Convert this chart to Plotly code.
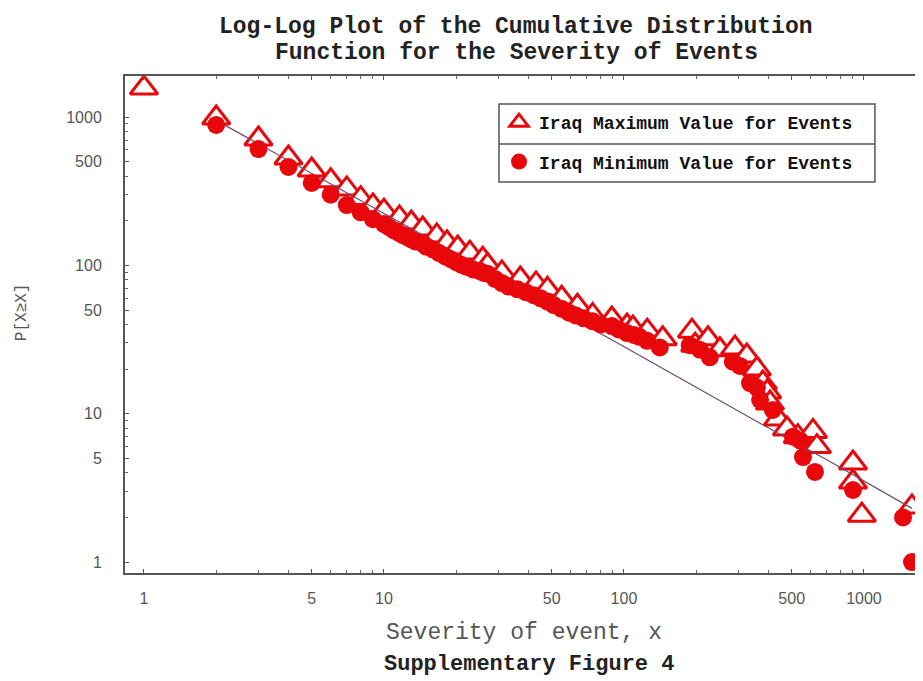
import plotly.graph_objects as go

# ---- data ----
max_x = [1, 2, 3, 4, 5, 6, 7, 8, 9, 10, 11.6, 13, 14.5, 16.6, 18.3, 20.3, 22.8, 25.8,
         27, 31, 37, 43, 48, 55, 64, 74, 89, 103, 109, 125, 145, 192, 198, 224, 251,
         290, 325, 358, 379, 395, 406, 438, 478, 530, 613, 637, 900, 900, 980, 1585]
max_y = [1570, 986, 712, 530, 440, 372, 328, 282, 252, 232, 209, 193, 176, 158, 142, 131, 121, 110,
         100, 89, 81, 75, 69, 60, 53, 46, 43.5, 39, 37.8, 36, 32, 36, 29, 32, 27,
         27.7, 24.5, 20, 16.1, 14, 11.8, 9.2, 7.9, 7, 7.6, 6, 4.65, 3.46, 2.07, 2.35]

min_x = [2, 3, 4, 5, 6, 7, 8, 9, 10, 10.5, 11, 11.5, 12, 12.5, 13, 13.5, 14.5, 15, 16, 17,
         18, 19, 20, 21, 22, 23.5, 25, 26, 27, 29, 31, 33, 36, 39, 42, 45, 48, 51, 55, 59,
         63, 68, 74, 80, 89, 95, 103, 110, 116, 125, 141, 188, 207, 228, 284, 304, 335,
         358, 369, 417, 506, 541, 557, 625, 900, 1455, 1585]
min_y = [885, 609, 461, 360, 300, 255, 228, 205, 190, 181, 172, 166, 160, 155, 150, 145, 140, 134,
         128, 121, 115, 110, 105, 101, 98, 94, 92, 89, 88, 81, 76, 72, 69, 66, 63, 60, 57, 54, 51, 48,
         46, 44, 42, 40, 39, 37, 35, 34, 33, 31, 28, 29, 27, 24, 22.4, 21, 16.1,
         15, 12.4, 10.6, 7.0, 6.6, 5.1, 4.05, 3.06, 2.0, 1.0]

line_x = [2, 94, 380, 700, 1585]
line_y = [950, 30, 8.4, 4.9, 2.3]

x_tickvals = [1, 5, 10, 50, 100, 500, 1000]
x_ticktext = ["1", "5", "10", "50", "100", "500", "1000"]
y_tickvals = [1, 5, 10, 50, 100, 500, 1000]
y_ticktext = ["1", "5", "10", "50", "100", "500", "1000"]
minor_vals = [2, 3, 4, 6, 7, 8, 9, 20, 30, 40, 60, 70, 80, 90,
              200, 300, 400, 600, 700, 800, 900, 2000]

title1 = "Log-Log Plot of the Cumulative Distribution"
title2 = "Function for the Severity of Events"
x_title = "Severity of event, x"
y_title = "P[X≥X]"
caption = "Supplementary Figure 4"
name_max = "Iraq Maximum Value for Events"
name_min = "Iraq Minimum Value for Events"

RED = "#e8080c"
MONO = "Liberation Mono, Courier New, monospace"
SANS = "Liberation Sans, Arial, sans-serif"

fig = go.Figure()
fig.add_trace(go.Scatter(
    x=max_x, y=max_y, mode="markers", name="<b>" + name_max + "</b>", legendgroup="a",
    marker=dict(symbol="triangle-up", size=24, color="white",
                line=dict(color=RED, width=3))))
fig.add_trace(go.Scatter(
    x=line_x, y=line_y, mode="lines", showlegend=False,
    line=dict(color="#6e4a72", width=1.2)))
fig.add_trace(go.Scatter(
    x=min_x, y=min_y, mode="markers", name="<b>" + name_min + "</b>", legendgroup="b",
    marker=dict(symbol="circle", size=18, color=RED, line=dict(width=0))))

axis_common = dict(
    type="log", showgrid=False, zeroline=False,
    showline=True, linecolor="#555555", linewidth=2,
    ticks="inside", ticklen=4, tickcolor="#555555", tickwidth=1,
    tickfont=dict(family=SANS, size=16, color="#555555"),
    minor=dict(tickvals=minor_vals, ticks="inside", ticklen=3,
               tickcolor="#666666", tickwidth=1, showgrid=False),
)

# page body has an 8px margin, so the figure is drawn 8px smaller
fig.update_layout(
    width=915, height=673,
    margin=dict(l=117, r=0, t=68, b=108),
    paper_bgcolor="white", plot_bgcolor="white",
    xaxis=dict(axis_common, range=[-0.079, 3.246], tickvals=x_tickvals,
               ticktext=x_ticktext, mirror="ticks", ticklabelstandoff=10),
    yaxis=dict(axis_common, range=[-0.074, 3.277], tickvals=y_tickvals,
               ticktext=y_ticktext, ticklabelstandoff=18),
    legend=dict(x=0.4687, y=0.9437, xanchor="left", yanchor="top",
                bgcolor="rgba(0,0,0,0)", borderwidth=0,
                font=dict(family=MONO, size=18, color="#111111"),
                tracegroupgap=13, itemsizing="trace", entrywidth=340),
    showlegend=True,
    shapes=[
        dict(type="rect", xref="paper", yref="paper", layer="above",
             x0=0.4687, x1=0.9398, y0=0.7867, y1=0.9437,
             fillcolor="white", line=dict(color="#555555", width=1.5)),
        dict(type="line", xref="paper", yref="paper", layer="above",
             x0=0.4687, x1=0.9398, y0=0.8632, y1=0.8632,
             line=dict(color="#555555", width=1.5)),
    ],
    annotations=[
        dict(text="<b>" + title1 + "</b>", xref="paper", yref="paper", x=0.49, y=1.0986,
             xanchor="center", yanchor="middle", showarrow=False,
             font=dict(family=MONO, size=23, color="#222222")),
        dict(text="<b>" + title2 + "</b>", xref="paper", yref="paper", x=0.49, y=1.046,
             xanchor="center", yanchor="middle", showarrow=False,
             font=dict(family=MONO, size=23, color="#222222")),
        dict(text=x_title, xref="paper", yref="paper", x=0.5, y=-0.1207,
             xanchor="center", yanchor="middle", showarrow=False,
             font=dict(family=MONO, size=23, color="#555555")),
        dict(text="<b>" + caption + "</b>", xref="paper", yref="paper", x=0.506, y=-0.185,
             xanchor="center", yanchor="middle", showarrow=False,
             font=dict(family=MONO, size=22, color="#222222")),
        dict(text=y_title, xref="paper", yref="paper", x=-0.129, y=0.525,
             xanchor="center", yanchor="middle", showarrow=False, textangle=-90,
             font=dict(family=MONO, size=16, color="#555555")),
    ],
)

fig.write_html("out.html")
